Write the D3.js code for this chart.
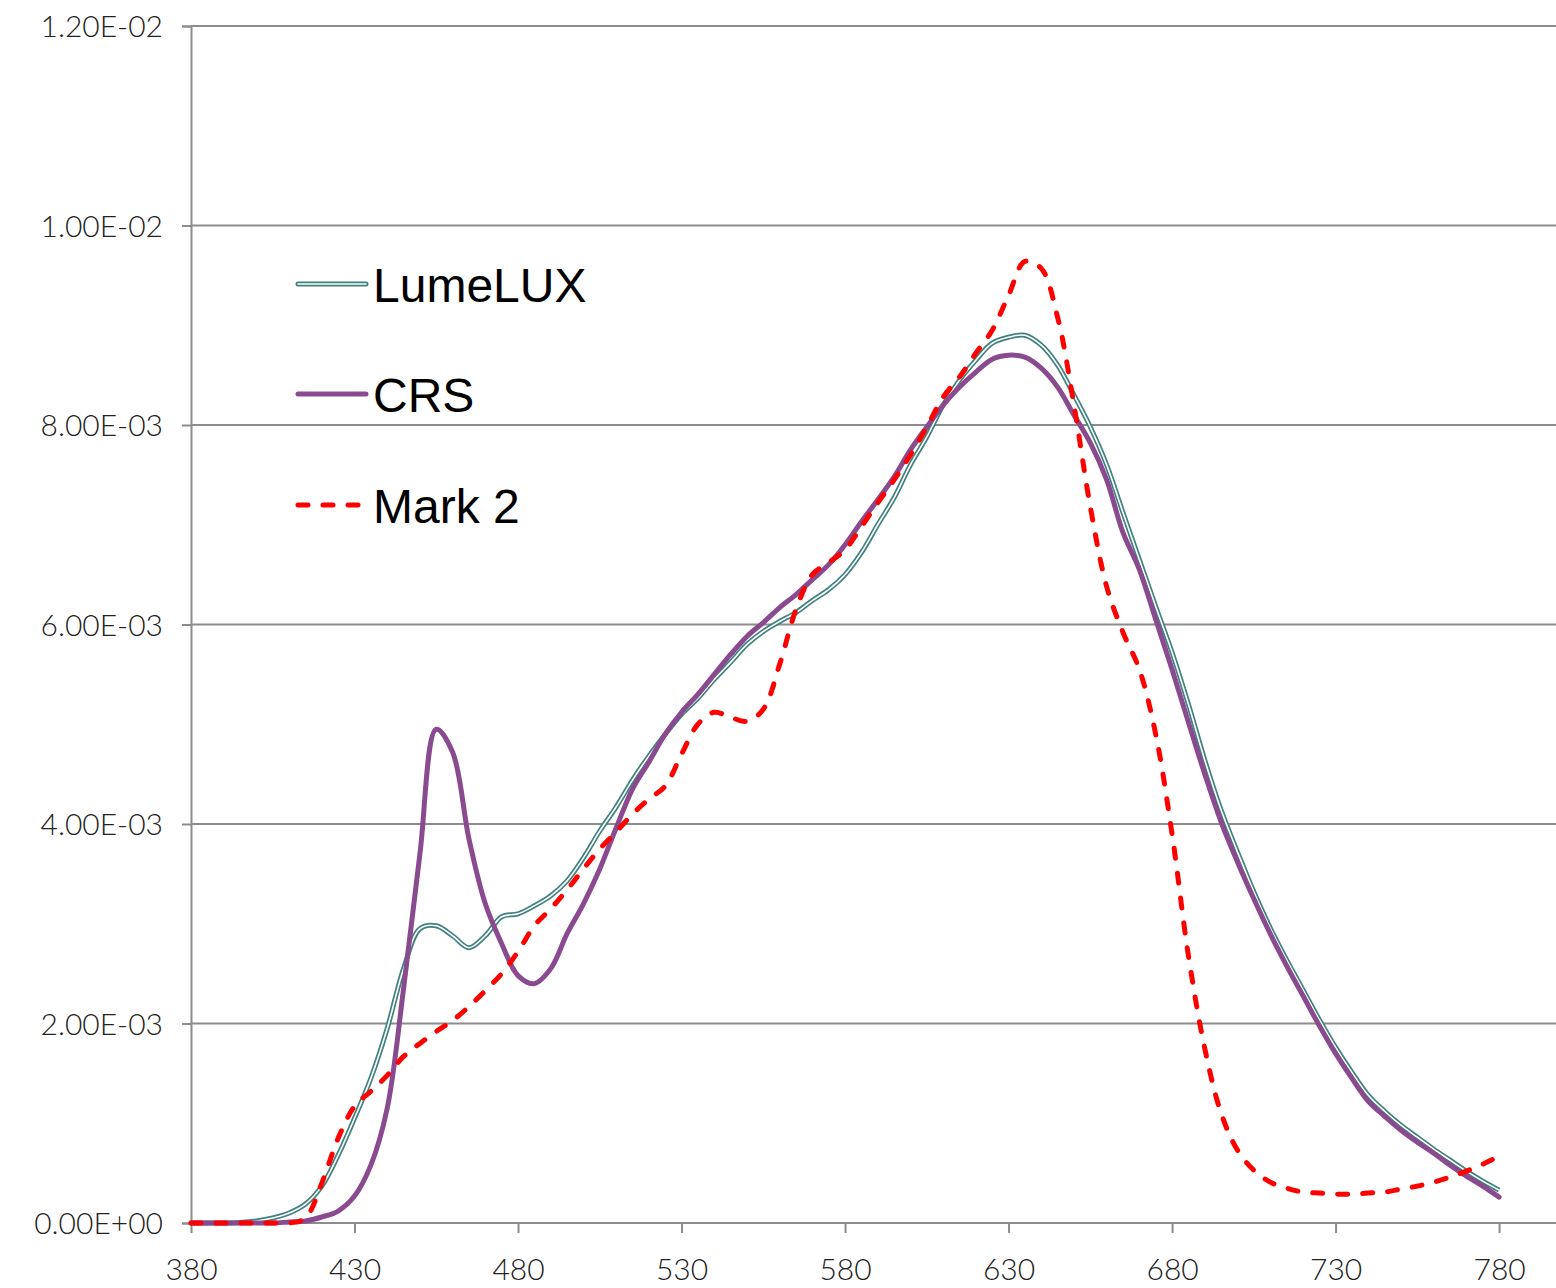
<!DOCTYPE html>
<html>
<head>
<meta charset="utf-8">
<script src="https://cdn.jsdelivr.net/npm/d3@7"></script>
<style>
  html, body { margin: 0; padding: 0; background: #fff; }
  svg { display: block; }
  .tick text { font-family: Lato, "Open Sans", sans-serif; font-weight: 300; fill: #222; }
</style>
</head>
<body>
<svg id="chart" width="1556" height="1288"></svg>
<script>
// Wavelength grid (nm), 5 nm steps
const wavelengths = d3.range(380, 781, 5);

// Spectral power, in units of 1e-3
const lumeluxValues = [
  0, 0, 0, 0.005, 0.02, 0.05, 0.1, 0.19, 0.37, 0.68,
  1.05, 1.45, 1.95, 2.55, 2.95, 2.98, 2.88, 2.76, 2.88, 3.07,
  3.1, 3.18, 3.28, 3.43, 3.66, 3.93, 4.17, 4.44, 4.68, 4.9,
  5.1, 5.26, 5.45, 5.62, 5.8, 5.93, 6.03, 6.12, 6.24, 6.35,
  6.5, 6.72, 7.0, 7.27, 7.6, 7.88, 8.2, 8.45, 8.65, 8.82,
  8.88, 8.9, 8.8, 8.6, 8.3, 7.98, 7.6, 7.12, 6.65, 6.18,
  5.72, 5.2, 4.64, 4.14, 3.72, 3.32, 2.96, 2.64, 2.34, 2.04,
  1.76, 1.51, 1.28, 1.12, 0.98, 0.86, 0.74, 0.63, 0.52, 0.42,
  0.33
];

const crsValues = [
  0, 0, 0, 0, 0, 0, 0.01, 0.02, 0.06, 0.12,
  0.27, 0.58, 1.15, 2.35, 3.7, 4.95, 4.72, 3.85, 3.2, 2.8,
  2.48, 2.4, 2.55, 2.9, 3.2, 3.55, 3.96, 4.35, 4.62, 4.9,
  5.12, 5.3, 5.5, 5.7, 5.88, 6.02, 6.17, 6.3, 6.45, 6.6,
  6.8, 7.03, 7.25, 7.48, 7.75, 7.98, 8.2, 8.38, 8.53, 8.66,
  8.7, 8.68, 8.57, 8.38, 8.1, 7.82, 7.45, 6.92, 6.55, 6.05,
  5.55, 5.02, 4.5, 4.02, 3.62, 3.25, 2.9, 2.58, 2.28, 1.98,
  1.7, 1.45, 1.22, 1.07, 0.93, 0.81, 0.7, 0.58, 0.47, 0.37,
  0.26
];

const mark2Values = [
  0, 0, 0, 0, 0, 0, 0, 0.05, 0.4, 0.85,
  1.17, 1.32, 1.48, 1.67, 1.8, 1.92, 2.03, 2.17, 2.33, 2.5,
  2.72, 2.98, 3.15, 3.34, 3.55, 3.75, 3.92, 4.1, 4.25, 4.38,
  4.7, 5.0, 5.12, 5.07, 5.03, 5.15, 5.6, 6.15, 6.5, 6.62,
  6.75, 6.98, 7.22, 7.45, 7.7, 7.98, 8.28, 8.48, 8.72, 8.95,
  9.3, 9.64, 9.57, 9.08, 8.2, 7.18, 6.38, 5.92, 5.55, 4.9,
  3.9, 2.68, 1.75, 1.1, 0.73, 0.53, 0.41, 0.35, 0.31, 0.3,
  0.29, 0.29, 0.3, 0.31, 0.34, 0.37, 0.41, 0.46, 0.52, 0.59,
  0.67
];

const seriesNames = ["LumeLUX", "CRS", "Mark 2"];

// Axis ticks
const xTicks = [380, 430, 480, 530, 580, 630, 680, 730, 780];
const yTicks = [0, 0.002, 0.004, 0.006, 0.008, 0.010, 0.012];
const yTickLabels = ["0.00E+00", "2.00E-03", "4.00E-03", "6.00E-03", "8.00E-03", "1.00E-02", "1.20E-02"];

const svg = d3.select("#chart");
const margin = { left: 191, right: 0, top: 26, bottom: 65 };
const W = 1556, H = 1288;

const x = d3.scaleLinear().domain([380, 797.4]).range([margin.left, W - margin.right]);
const y = d3.scaleLinear().domain([0, 0.012]).range([H - margin.bottom, margin.top]);

// Horizontal gridlines
svg.append("g")
  .selectAll("line")
  .data(yTicks.slice(1))
  .join("line")
  .attr("x1", x(380)).attr("x2", W)
  .attr("y1", d => y(d)).attr("y2", d => y(d))
  .attr("stroke", "#8c8c8c").attr("stroke-width", 2);

// Y axis
const yAxis = svg.append("g")
  .attr("transform", `translate(${x(380)},0)`)
  .call(d3.axisLeft(y).tickValues(yTicks)
    .tickFormat((d, i) => yTickLabels[i])
    .tickSize(9).tickPadding(19));
yAxis.select(".domain").attr("stroke", "#8c8c8c").attr("stroke-width", 2);
yAxis.selectAll(".tick line").attr("stroke", "#8c8c8c").attr("stroke-width", 2);
yAxis.selectAll(".tick text").attr("font-size", 30).attr("dy", "0.36em");

// X axis
const xAxis = svg.append("g")
  .attr("transform", `translate(0,${y(0)})`)
  .call(d3.axisBottom(x).tickValues(xTicks).tickFormat(d3.format("d"))
    .tickSize(10).tickPadding(26));
xAxis.select(".domain").attr("stroke", "#8c8c8c").attr("stroke-width", 2)
  .attr("d", `M${x(380)},0H${W}`);
xAxis.selectAll(".tick line").attr("stroke", "#8c8c8c").attr("stroke-width", 2);
xAxis.selectAll(".tick text").attr("font-size", 30);

// Line generator
const lineGen = d3.line()
  .x((d, i) => x(wavelengths[i]))
  .y(d => y(d * 1e-3))
  .curve(d3.curveCatmullRom.alpha(0.5));

const plot = svg.append("g");

// LumeLUX: double line (teal outline with white core)
plot.append("path").attr("d", lineGen(lumeluxValues))
  .attr("fill", "none").attr("stroke", "#40807e").attr("stroke-width", 5)
  .attr("stroke-linejoin", "round");
plot.append("path").attr("d", lineGen(lumeluxValues))
  .attr("fill", "none").attr("stroke", "#ffffff").attr("stroke-width", 1.6)
  .attr("stroke-linejoin", "round");

// CRS
plot.append("path").attr("d", lineGen(crsValues))
  .attr("fill", "none").attr("stroke", "#8a4a90").attr("stroke-width", 5)
  .attr("stroke-linejoin", "round").attr("stroke-linecap", "round");

// Mark 2 (dashed)
plot.append("path").attr("d", lineGen(mark2Values))
  .attr("fill", "none").attr("stroke", "#ff0000").attr("stroke-width", 5)
  .attr("stroke-dasharray", "10,15").attr("stroke-linecap", "round")
  .attr("stroke-linejoin", "round");

// Legend
const legend = svg.append("g");
const legendRows = [
  { name: seriesNames[0], y: 284 },
  { name: seriesNames[1], y: 394 },
  { name: seriesNames[2], y: 505 }
];
legendRows.forEach((r, i) => {
  const g = legend.append("g");
  if (i === 0) {
    g.append("line").attr("x1", 298).attr("x2", 366).attr("y1", r.y).attr("y2", r.y)
      .attr("stroke", "#40807e").attr("stroke-width", 5).attr("stroke-linecap", "round");
    g.append("line").attr("x1", 298).attr("x2", 366).attr("y1", r.y).attr("y2", r.y)
      .attr("stroke", "#fff").attr("stroke-width", 1.6).attr("stroke-linecap", "round");
  } else if (i === 1) {
    g.append("line").attr("x1", 298).attr("x2", 366).attr("y1", r.y).attr("y2", r.y)
      .attr("stroke", "#8a4a90").attr("stroke-width", 5).attr("stroke-linecap", "round");
  } else {
    g.append("line").attr("x1", 298).attr("x2", 366).attr("y1", r.y).attr("y2", r.y)
      .attr("stroke", "#ff0000").attr("stroke-width", 5).attr("stroke-linecap", "round")
      .attr("stroke-dasharray", "10,15");
  }
  g.append("text").attr("x", 373).attr("y", r.y + 18)
    .attr("font-family", "Liberation Sans, Arial, sans-serif")
    .attr("font-size", 48).attr("fill", "#000").text(r.name);
});
</script>
</body>
</html>
